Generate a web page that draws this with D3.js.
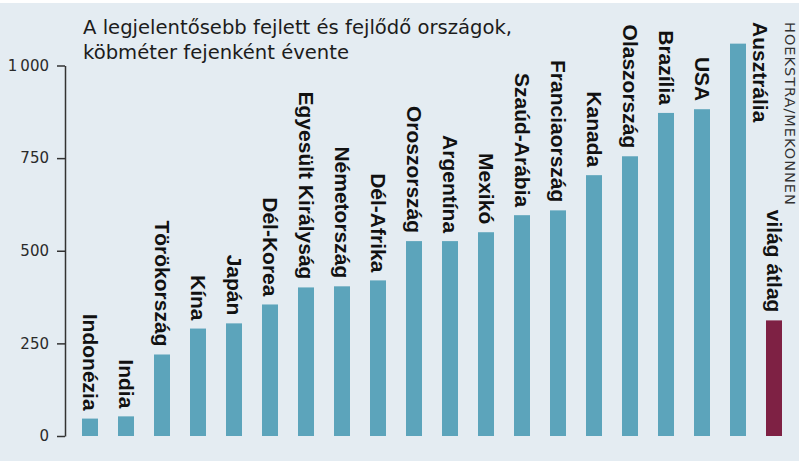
<!DOCTYPE html>
<html>
<head>
<meta charset="utf-8">
<script src="https://cdn.jsdelivr.net/npm/d3@7"></script>
<style>
  body { margin: 0; background: #fff; }
  svg { display: block; font-family: 'Liberation Sans', Arial, sans-serif; }
  .title { font-family: 'DejaVu Sans', sans-serif; font-size: 19.6px; fill: #1c1c1c; }
  .bar-label { font-size: 21px; font-weight: bold; fill: #111; }
  .source { font-family: 'DejaVu Sans', sans-serif; font-size: 14.5px; letter-spacing: 1px; fill: #333; }
  .y-axis text { font-size: 15px; fill: #2a2a2a; font-family: 'DejaVu Sans', sans-serif; }
  .y-axis path, .y-axis line { stroke: #333; stroke-width: 1.5; }
</style>
</head>
<body>
<svg class="chart"></svg>
<script>
const countries = ['Indonézia', 'India', 'Törökország', 'Kína', 'Japán', 'Dél-Korea',
    'Egyesült Királyság', 'Németország', 'Dél-Afrika', 'Oroszország', 'Argentína',
    'Mexikó', 'Szaúd-Arábia', 'Franciaország', 'Kanada', 'Olaszország', 'Brazília',
    'USA', 'Ausztrália', 'világ átlag']
const values = [47, 53, 220, 290, 304, 355, 401, 404, 420, 526, 526, 550, 596, 609,
    704, 755, 872, 882, 1059, 312]
const yTicks = [0, 250, 500, 750, 1000]
const titleLines = ['A legjelentősebb fejlett és fejlődő országok,', 'köbméter fejenként évente']
const source = 'HOEKSTRA/MEKONNEN'
const highlight = 'világ átlag'

const width = 803
const height = 461

const svg = d3.select('.chart').attr('width', width).attr('height', height)

// background panel
svg.append('rect')
    .attr('x', 0).attr('y', 3)
    .attr('width', 799).attr('height', height - 3)
    .attr('fill', '#e4ecf2')

const data = countries.map((c, i) => ({ name: c, value: values[i] }))

const x = d3.scaleBand()
    .domain(countries)
    .range([72, 792])
    .paddingInner(20 / 36)
    .paddingOuter(10 / 36)

const y = d3.scaleLinear()
    .domain([0, 1000])
    .range([436, 65.5])

// title
svg.append('text')
    .attr('class', 'title')
    .selectAll('tspan')
        .data(titleLines)
    .enter().append('tspan')
        .attr('x', 83)
        .attr('y', (d, i) => 34 + i * 25)
        .text(d => d)

// y axis
const locale = d3.formatLocale({ decimal: ',', thousands: '\u2009', grouping: [3], currency: ['', ''] })
const yAxis = d3.axisLeft(y)
    .tickValues(yTicks)
    .tickSize(8)
    .tickSizeOuter(0)
    .tickPadding(8)
    .tickFormat(locale.format(','))

svg.append('g')
    .attr('class', 'y-axis')
    .attr('transform', 'translate(65,0)')
    .call(yAxis)

// bars
svg.append('g').selectAll('rect')
        .data(data)
    .enter().append('rect')
        .attr('x', d => x(d.name))
        .attr('y', d => y(d.value))
        .attr('width', x.bandwidth())
        .attr('height', d => y(0) - y(d.value))
        .attr('fill', d => d.name === highlight ? '#7e2144' : '#5ca4bb')

// bar labels, rotated, reading downwards
const labels = svg.append('g').selectAll('text')
        .data(data)
    .enter().append('text')
        .attr('class', 'bar-label')
        .text(d => d.name)

labels.each(function (d) {
    const el = d3.select(this)
    const len = this.getComputedTextLength()
    const top = y(d.value) - 8
    if (top - len < 18) {
        // not enough room above the bar: put it beside the bar
        el.attr('text-anchor', 'start')
          .attr('transform', `translate(${x(d.name) + x.bandwidth() + 7},${22}) rotate(90)`)
    } else {
        el.attr('text-anchor', 'end')
          .attr('transform', `translate(${x(d.name) + x.bandwidth() / 2 - 7.5},${top}) rotate(90)`)
    }
})

// source
svg.append('text')
    .attr('class', 'source')
    .attr('transform', 'translate(785,22) rotate(90)')
    .text(source)
</script>
</body>
</html>
